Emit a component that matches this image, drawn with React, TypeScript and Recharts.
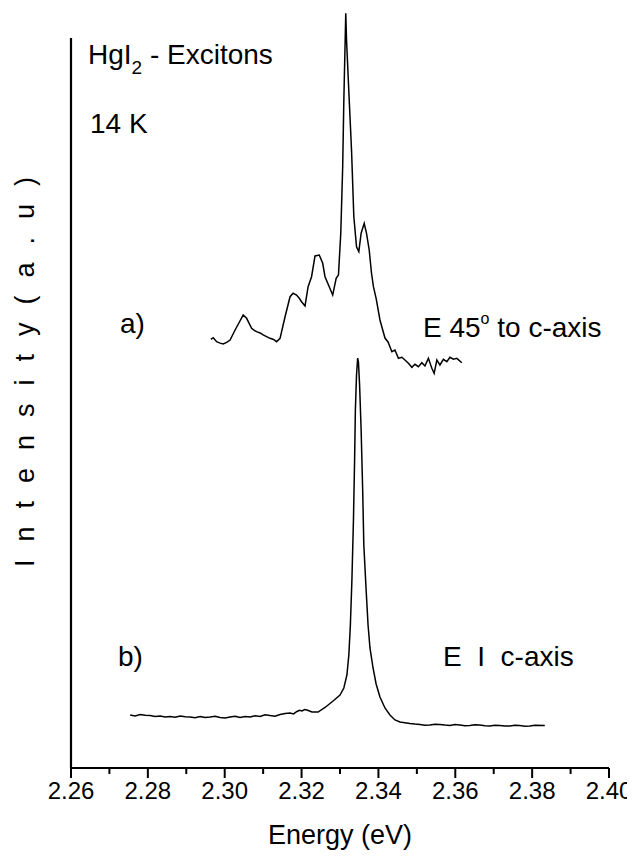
import React from "react";
import { LineChart, Line, XAxis, YAxis, ReferenceLine } from "recharts";

// Energy (eV) and intensity (a.u.) of spectrum a) E 45° to c-axis
const energyA = [2.2964, 2.2970, 2.2979, 2.2988, 2.2996, 2.3005, 2.3014, 2.3027, 2.304, 2.3048, 2.3057, 2.307, 2.3077, 2.3083, 2.3092, 2.31, 2.3109, 2.3118, 2.3127, 2.3135, 2.3144, 2.3157, 2.317, 2.3178, 2.3187, 2.3194, 2.32, 2.3209, 2.3217, 2.3226, 2.3235, 2.3246, 2.3255, 2.3261, 2.3272, 2.3281, 2.329, 2.3296, 2.3302, 2.3307, 2.331, 2.3315, 2.3317, 2.3322, 2.333, 2.3336, 2.3343, 2.3349, 2.3355, 2.3363, 2.3369, 2.3376, 2.3382, 2.3387, 2.3394, 2.3404, 2.3417, 2.3425, 2.3435, 2.3443, 2.3452, 2.3461, 2.3469, 2.3478, 2.3487, 2.3495, 2.3504, 2.3513, 2.3521, 2.353, 2.3539, 2.3545, 2.3552, 2.356, 2.3569, 2.3578, 2.3586, 2.3595, 2.3604, 2.3617];
const intensityA = [58.73, 58.95, 58.4, 58.2, 58.08, 58.3, 58.63, 60.0, 61.27, 62.05, 61.6, 60.23, 59.95, 59.77, 59.6, 59.32, 59.1, 58.86, 58.7, 58.4, 58.86, 61.82, 64.56, 65.03, 64.79, 64.34, 63.88, 63.29, 65.93, 67.3, 70.14, 70.27, 69.14, 67.3, 65.93, 64.79, 67.08, 67.53, 73.25, 82.37, 91.51, 103.4, 99.73, 93.79, 84.66, 75.52, 71.41, 70.73, 73.25, 74.62, 73.25, 70.96, 67.77, 65.93, 64.34, 61.37, 58.9, 58.36, 57.03, 57.26, 56.12, 56.26, 55.89, 55.44, 54.89, 55.3, 54.97, 55.52, 55.07, 56.12, 54.75, 54.07, 55.89, 55.21, 55.99, 55.66, 56.26, 55.99, 56.12, 55.52];

// Spectrum b) E I c-axis
const energyB = [2.2754, 2.2767, 2.278, 2.2793, 2.2806, 2.2819, 2.2832, 2.2845, 2.2858, 2.2871, 2.2884, 2.2897, 2.291, 2.2923, 2.2936, 2.2949, 2.2962, 2.2975, 2.2988, 2.3001, 2.3014, 2.3027, 2.304, 2.3053, 2.3066, 2.3079, 2.3092, 2.3105, 2.3118, 2.3131, 2.3144, 2.3157, 2.317, 2.3179, 2.3188, 2.3195, 2.3201, 2.3208, 2.3214, 2.3227, 2.3243, 2.3261, 2.3282, 2.33, 2.331, 2.3318, 2.3323, 2.3327, 2.3331, 2.3335, 2.3338, 2.334, 2.3343, 2.3346, 2.3348, 2.3351, 2.3355, 2.3359, 2.3362, 2.3368, 2.3373, 2.3378, 2.3386, 2.3394, 2.3404, 2.3417, 2.343, 2.3443, 2.3456, 2.3469, 2.3482, 2.3495, 2.3508, 2.3521, 2.3534, 2.3547, 2.356, 2.3573, 2.3586, 2.3599, 2.3612, 2.3625, 2.3638, 2.3651, 2.3664, 2.3677, 2.369, 2.3703, 2.3716, 2.3729, 2.3742, 2.3755, 2.3768, 2.3781, 2.3794, 2.3807, 2.3833];
const intensityB = [7.26, 7.12, 7.33, 7.22, 7.19, 7.05, 7.12, 7.0, 7.05, 6.95, 7.12, 7.02, 6.99, 6.88, 7.05, 6.92, 6.99, 7.08, 6.92, 6.85, 6.99, 7.1, 6.92, 7.05, 6.99, 7.15, 7.05, 7.3, 7.19, 7.1, 7.33, 7.45, 7.53, 7.4, 7.74, 7.9, 7.81, 8.0, 7.95, 7.67, 7.67, 8.29, 9.18, 10.0, 10.96, 12.74, 15.48, 19.59, 25.75, 33.97, 42.19, 49.04, 53.84, 56.16, 55.62, 52.47, 46.3, 38.08, 30.55, 24.38, 19.59, 16.44, 13.7, 11.51, 9.73, 8.22, 7.26, 6.58, 6.3, 6.2, 6.1, 6.02, 5.96, 5.85, 5.89, 6.0, 5.96, 5.88, 5.82, 5.95, 5.89, 5.78, 5.82, 5.93, 5.89, 5.8, 5.75, 5.86, 5.82, 5.74, 5.75, 5.85, 5.82, 5.73, 5.75, 5.84, 5.82];

const xTicks = [2.26, 2.27, 2.28, 2.29, 2.3, 2.31, 2.32, 2.33, 2.34, 2.35, 2.36, 2.37, 2.38, 2.39, 2.4];
const majorTicks = [2.26, 2.28, 2.3, 2.32, 2.34, 2.36, 2.38, 2.4];

const seriesA = energyA.map((e, i) => ({ e, v: intensityA[i] }));
const seriesB = energyB.map((e, i) => ({ e, v: intensityB[i] }));

const FONT = "'Liberation Sans', Arial, Helvetica, sans-serif";

const Tick = (props: any) => {
  const { x, y, payload } = props;
  const val = payload.value;
  const major = majorTicks.some((m) => Math.abs(m - val) < 1e-6);
  return (
    <g>
      <line x1={x} y1={y} x2={x} y2={y + (major ? 10 : 6)} stroke="#000" strokeWidth={2} />
      {major && (
        <text x={x} y={y + 31} textAnchor="middle" fontSize={24} fontFamily={FONT} fill="#000">
          {val.toFixed(2)}
        </text>
      )}
    </g>
  );
};

export default function App() {
  const W = 627;
  const H = 842;
  return (
    <div style={{ position: "relative", width: W, height: H }}>
      <LineChart width={W} height={H} margin={{ top: 0, right: 26, bottom: 0, left: 63 }}>
        <XAxis
          type="number"
          dataKey="e"
          domain={[2.26, 2.4]}
          ticks={xTicks}
          interval={0}
          tickSize={0}
          tickMargin={0}
          tickLine={false}
          tick={<Tick />}
          axisLine={{ stroke: "#000", strokeWidth: 2 }}
          height={82}
          allowDataOverflow
        />
        <YAxis type="number" domain={[0, 104.11]} hide allowDataOverflow />
        <ReferenceLine
          segment={[{ x: 2.26, y: 0 }, { x: 2.26, y: 100 }]}
          stroke="#000"
          strokeWidth={2.2}
        />
        <Line data={seriesA} dataKey="v" type="linear" stroke="#000" strokeWidth={1.5} dot={false} isAnimationActive={false} />
        <Line data={seriesB} dataKey="v" type="linear" stroke="#000" strokeWidth={1.5} dot={false} isAnimationActive={false} />
      </LineChart>
      <svg
        width={W}
        height={H}
        style={{ position: "absolute", left: 0, top: 0, pointerEvents: "none", overflow: "visible" }}
      >
        <g fontFamily={FONT} fill="#000">
          <text x={80} y={56} fontSize={28}>
            <tspan>HgI</tspan>
            <tspan dy={10} fontSize={19}>2</tspan>
            <tspan dy={-10}> - Excitons</tspan>
          </text>
          <text x={82} y={125} fontSize={28}>14 K</text>
          <text x={112} y={325} fontSize={28}>a)</text>
          <text x={110} y={658} fontSize={28}>b)</text>
          <text x={415} y={329} fontSize={28}>
            <tspan>E 45</tspan>
            <tspan dy={-13} fontSize={16}>o</tspan>
            <tspan dy={13}> to c-axis</tspan>
          </text>
          <text x={435} y={658} fontSize={28} style={{ whiteSpace: "pre" }}>E  I  c-axis</text>
          <text x={332} y={836} fontSize={27} textAnchor="middle">Energy (eV)</text>
          <text
            x={26}
            y={355}
            fontSize={27}
            textAnchor="middle"
            letterSpacing={18}
            transform="rotate(-90 26 355)"
          >
            Intensity(a.u)
          </text>
        </g>
      </svg>
    </div>
  );
}
